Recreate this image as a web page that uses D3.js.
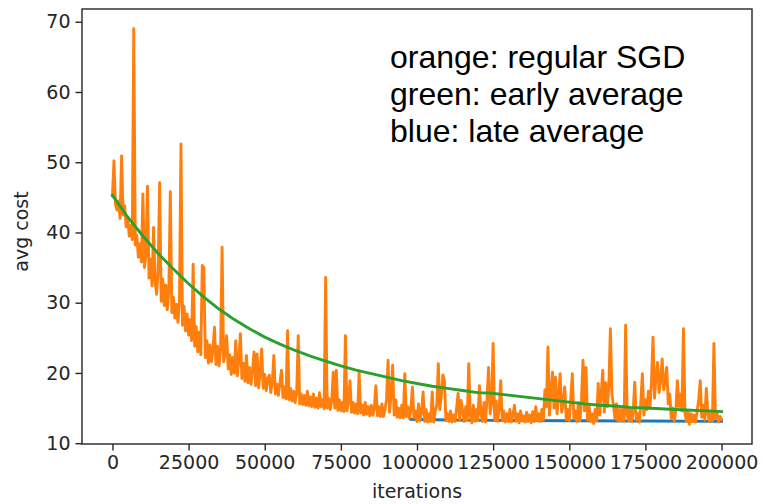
<!DOCTYPE html>
<html>
<head>
<meta charset="utf-8">
<script src="https://cdn.jsdelivr.net/npm/d3@7"></script>
<style>
  body { margin: 0; background: #fff; }
  svg { display: block; }
</style>
</head>
<body>
<svg id="chart" width="763" height="504"></svg>
<script>
// SGD cost, sampled every iterStep iterations (0 … 200000)
const iterStep = 500;
const sgdCost = [
  45.2, 50.2, 44.0, 43.2, 44.5, 42.0, 50.9, 42.5, 43.8, 40.8, 42.2, 39.5, 41.0, 39.0, 69.0, 38.2, 39.6, 36.5, 38.4, 35.8,
  45.5, 35.0, 36.8, 46.6, 33.5, 36.2, 32.4, 40.7, 33.0, 31.2, 34.6, 47.1, 30.2, 33.4, 29.6, 32.5, 29.0, 31.4, 45.8, 28.6,
  30.8, 27.8, 29.8, 27.2, 30.2, 52.6, 26.8, 29.5, 26.0, 28.4, 25.4, 27.6, 24.6, 35.5, 23.8, 26.6, 23.0, 25.8, 22.6, 35.3,
  35.0, 22.2, 24.6, 21.4, 24.0, 21.6, 23.4, 26.5, 21.2, 23.8, 21.0, 23.2, 37.9, 21.6, 23.0, 25.3, 20.6, 22.6, 19.8, 22.2,
  20.0, 24.6, 19.6, 21.8, 25.6, 19.2, 21.4, 18.8, 22.5, 18.6, 20.8, 18.4, 20.4, 23.0, 18.2, 22.7, 17.9, 20.2, 23.4, 17.8,
  19.8, 17.5, 19.2, 19.7, 17.2, 18.8, 22.5, 17.0, 18.4, 16.8, 18.6, 20.4, 16.5, 18.0, 16.3, 26.0, 16.2, 17.8, 16.0, 17.4,
  15.8, 17.2, 25.3, 15.6, 17.0, 15.5, 16.8, 15.4, 17.4, 15.3, 16.6, 15.2, 17.0, 15.1, 16.4, 15.0, 17.2, 15.2, 16.2, 14.9,
  33.6, 15.0, 16.4, 14.8, 16.0, 20.1, 15.0, 20.4, 14.7, 16.2, 14.6, 15.8, 14.5, 25.3, 14.6, 16.0, 18.9, 14.4, 15.8, 14.3,
  15.6, 14.2, 20.1, 14.3, 15.4, 14.0, 15.8, 14.1, 15.2, 13.9, 15.4, 14.0, 15.0, 18.2, 13.9, 15.2, 13.8, 15.6, 13.8, 14.9,
  16.2, 21.8, 14.4, 17.0, 21.1, 14.0, 16.2, 13.7, 15.0, 13.6, 15.4, 13.6, 19.9, 13.8, 15.2, 13.5, 14.8, 18.0, 13.6, 14.6,
  13.1, 15.6, 13.2, 14.4, 17.3, 13.1, 14.8, 13.0, 14.2, 13.1, 17.3, 13.0, 14.6, 15.4, 21.3, 14.8, 16.8, 19.7, 18.9, 13.2,
  14.2, 13.1, 14.6, 13.0, 14.0, 13.1, 15.0, 17.1, 13.3, 16.1, 14.5, 13.1, 15.2, 13.3, 21.3, 14.0, 12.9, 15.4, 13.1, 14.8,
  13.3, 18.2, 14.2, 13.1, 15.8, 13.0, 16.4, 20.8, 14.2, 15.6, 24.2, 13.3, 16.0, 13.1, 15.2, 18.9, 13.2, 14.6, 13.0, 14.2,
  13.1, 14.8, 13.0, 14.0, 15.4, 13.1, 14.2, 12.9, 14.6, 13.2, 13.9, 13.0, 14.4, 13.1, 14.0, 12.9, 14.5, 13.1, 15.2, 13.2,
  14.2, 13.1, 14.8, 13.3, 17.6, 15.2, 23.7, 14.0, 17.4, 20.1, 15.0, 19.4, 14.2, 16.8, 19.9, 14.4, 15.6, 18.0, 13.3, 14.8,
  13.2, 16.4, 19.9, 13.5, 14.6, 13.1, 15.8, 13.2, 16.0, 21.8, 14.6, 20.8, 13.3, 15.4, 13.1, 14.2, 12.8, 14.8, 13.2, 18.5,
  14.0, 17.2, 20.4, 14.4, 18.6, 15.2, 18.0, 26.3, 17.0, 15.4, 13.5, 15.6, 13.1, 14.8, 13.2, 15.2, 13.1, 26.8, 14.0, 13.2,
  15.0, 13.1, 14.6, 18.7, 13.3, 14.2, 13.0, 15.8, 19.9, 14.0, 16.2, 14.8, 17.4, 15.0, 18.8, 25.1, 16.4, 19.6, 21.5, 17.2,
  19.0, 22.0, 17.6, 19.2, 20.8, 15.6, 17.0, 13.5, 15.0, 13.1, 14.8, 18.9, 15.2, 17.0, 14.6, 26.3, 14.2, 13.1, 14.4, 12.7,
  14.2, 13.1, 14.0, 13.0, 14.6, 16.2, 18.9, 13.7, 15.4, 13.3, 17.8, 14.2, 13.1, 14.6, 13.2, 24.2, 13.5, 14.4, 13.0, 13.8,
  13.4
];

// running average of the iterates from the start
const earlyAvgIter = [0, 5000, 10000, 15000, 20000, 25000, 30000, 35000, 40000, 45000,
  50000, 55000, 60000, 65000, 70000, 75000, 80000, 85000, 90000, 95000,
  100000, 105000, 110000, 115000, 120000, 125000, 130000, 135000, 140000, 145000,
  150000, 155000, 160000, 165000, 170000, 175000, 180000, 185000, 190000, 195000, 200000];
const earlyAvgCost = [45.3, 42.2, 39.5, 37.0, 34.8, 32.7, 30.8, 29.1, 27.6, 26.3,
  25.1, 24.1, 23.2, 22.4, 21.7, 21.0, 20.4, 19.9, 19.4, 18.9,
  18.5, 18.1, 17.8, 17.5, 17.2, 17.1, 16.85, 16.6, 16.35, 16.1,
  15.85, 15.6, 15.4, 15.3, 15.1, 15.0, 14.9, 14.8, 14.7, 14.6, 14.5];

// running average started in the second half of training
const lateAvgIter = [98000, 110000, 125000, 150000, 175000, 200000];
const lateAvgCost = [13.4, 13.3, 13.25, 13.2, 13.15, 13.1];

const xTicks = [0, 25000, 50000, 75000, 100000, 125000, 150000, 175000, 200000];
const yTicks = [10, 20, 30, 40, 50, 60, 70];
const notes = ["orange: regular SGD", "green: early average", "blue: late average"];

const plot = { left: 82, right: 752, top: 9, bottom: 444 };

const sgd = sgdCost.map((v, i) => [i * iterStep, v]);
const early = earlyAvgIter.map((t, i) => [t, earlyAvgCost[i]]);
const late = lateAvgIter.map((t, i) => [t, lateAvgCost[i]]);
const all = sgd.concat(early, late);

// 5% padding around the data, as matplotlib autoscaling does
function padded(ext) {
  const d = (ext[1] - ext[0]) * 0.05;
  return [ext[0] - d, ext[1] + d];
}
const x = d3.scaleLinear()
  .domain(padded(d3.extent(all, d => d[0])))
  .range([plot.left, plot.right]);
const y = d3.scaleLinear()
  .domain(padded(d3.extent(all, d => d[1])))
  .range([plot.bottom, plot.top]);

const svg = d3.select("#chart");
const tickFont = "'DejaVu Sans', sans-serif";
const tickSize = "19px";
const ink = "#262626";

svg.append("defs").append("clipPath").attr("id", "plotArea")
  .append("rect")
  .attr("x", plot.left).attr("y", plot.top)
  .attr("width", plot.right - plot.left).attr("height", plot.bottom - plot.top);

const line = d3.line().x(d => x(d[0])).y(d => y(d[1]));
const series = svg.append("g").attr("clip-path", "url(#plotArea)")
  .attr("fill", "none").attr("stroke-width", 2.9)
  .attr("stroke-linejoin", "round").attr("stroke-linecap", "square");

series.append("path").datum(late).attr("d", line).attr("stroke", "#1f77b4");
series.append("path").datum(sgd).attr("d", line).attr("stroke", "#ff7f0e");
series.append("path").datum(early).attr("d", line).attr("stroke", "#2ca02c");

// axes
const xAxis = svg.append("g")
  .attr("transform", `translate(0,${plot.bottom})`)
  .call(d3.axisBottom(x).tickValues(xTicks).tickSize(6.5).tickPadding(5)
    .tickFormat(d3.format("d")));
const yAxis = svg.append("g")
  .attr("transform", `translate(${plot.left},0)`)
  .call(d3.axisLeft(y).tickValues(yTicks).tickSize(6.5).tickPadding(5)
    .tickFormat(d3.format("d")));

[xAxis, yAxis].forEach(g => {
  g.select(".domain").remove();
  g.selectAll(".tick line").attr("stroke", ink).attr("stroke-width", 1.4);
  g.selectAll(".tick text")
    .attr("fill", ink)
    .style("font-family", tickFont)
    .style("font-size", tickSize);
});

// frame
svg.append("rect")
  .attr("x", plot.left).attr("y", plot.top)
  .attr("width", plot.right - plot.left).attr("height", plot.bottom - plot.top)
  .attr("fill", "none").attr("stroke", ink).attr("stroke-width", 1.4);

// axis titles
svg.append("text")
  .attr("x", (plot.left + plot.right) / 2).attr("y", 498)
  .attr("text-anchor", "middle")
  .attr("fill", ink)
  .style("font-family", tickFont).style("font-size", tickSize)
  .text("iterations");

svg.append("text")
  .attr("transform", `translate(28,${(plot.top + plot.bottom) / 2 + 5}) rotate(-90)`)
  .attr("text-anchor", "middle")
  .attr("fill", ink)
  .style("font-family", tickFont).style("font-size", tickSize)
  .text("avg cost");

// colour key
svg.append("g").selectAll("text").data(notes).join("text")
  .attr("x", 390)
  .attr("y", (d, i) => 68 + i * 37)
  .attr("fill", "#000")
  .style("font-family", "'Liberation Sans', Arial, sans-serif")
  .style("font-size", "32px")
  .text(d => d);
</script>
</body>
</html>
